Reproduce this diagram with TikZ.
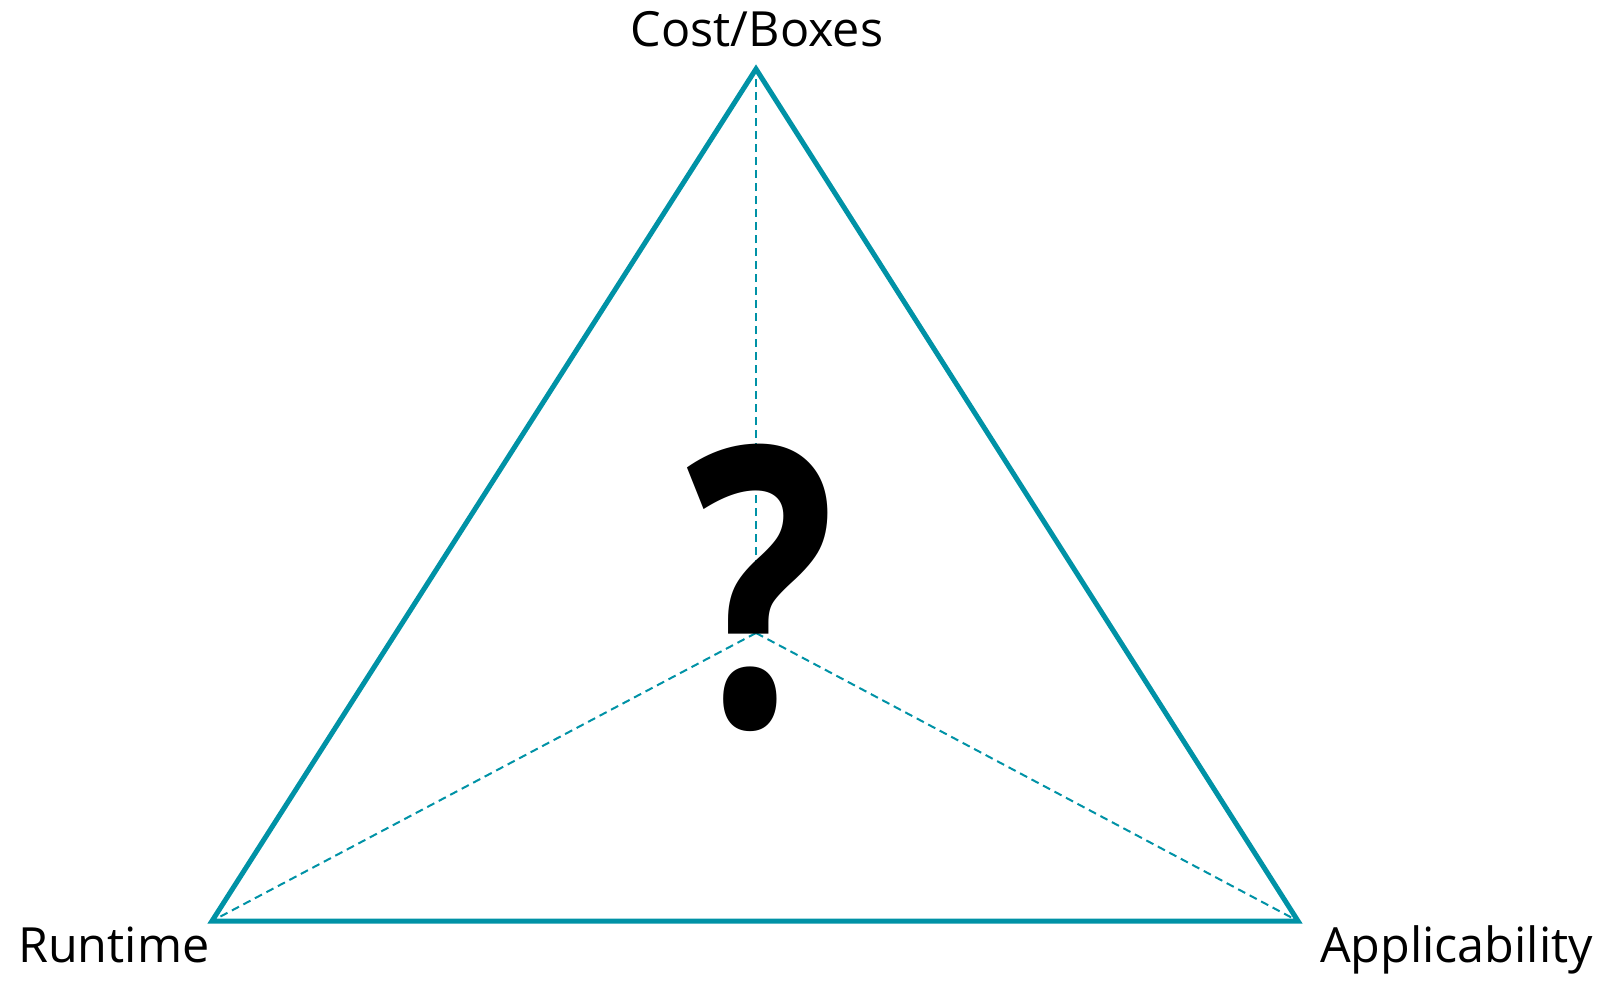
\documentclass[tikz,border=0pt]{standalone}
\usepackage{fontspec}
\setmainfont{Open Sans}
\usepackage{tikz}
\usetikzlibrary{positioning,calc}
\definecolor{edgeteal}{RGB}{0,146,166}
\tikzset{
  side/.style   = {draw=edgeteal, line width=5pt, line join=miter},
  spoke/.style  = {draw=edgeteal, line width=2pt, dash pattern=on 8pt off 5pt},
  corner/.style = {font=\fontsize{48.5}{52}\selectfont, inner sep=0pt, anchor=base},
}

\begin{document}
\begin{tikzpicture}[x=1pt,y=-1pt]
  \useasboundingbox (0,0) rectangle (1603,982);
  % corners of the triangle
  \coordinate (top) at (756,69);
  \coordinate (lft) at (212,921);
  \coordinate (rgt) at (1298,921);
  \coordinate (mid) at (756,633);
  \draw[spoke] (mid) -- (top);
  \draw[spoke] (mid) -- (lft);
  \draw[spoke] (mid) -- (rgt);
  \draw[side] (top) -- (lft) -- (rgt) -- cycle;
  \node[inner sep=0pt, anchor=base, xscale=0.8, transform shape,
        font=\fontsize{390}{400}\selectfont\bfseries] (qm) at (761,726) {?};
  \node[corner] (cost) at (757,47) {Cost/Boxes};
  \node[corner, anchor=base west] (run) at (18,962) {Runtime};
  \node[corner, anchor=base east] (app) at (1593,962) {Applicability};
\end{tikzpicture}
\end{document}
